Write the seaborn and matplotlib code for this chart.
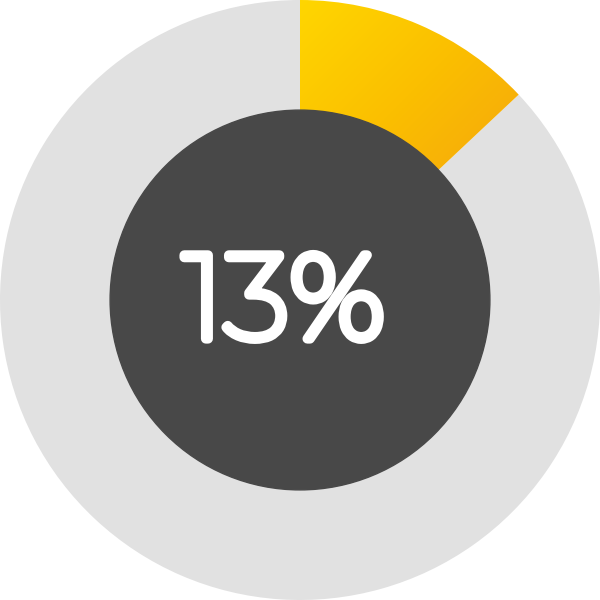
import numpy as np
import matplotlib
matplotlib.use("Agg")
import matplotlib.pyplot as plt
import matplotlib.patheffects as pe
import seaborn as sns
from matplotlib.colors import LinearSegmentedColormap

# Data
labels = ["done", "rest"]
values = [13, 87]
center_text = "13%"

sns.set_theme(style="white")
plt.rcParams['font.family'] = ['Montserrat', 'Open Sans', 'DejaVu Sans']

fig = plt.figure(figsize=(6, 6), dpi=100)
ax = fig.add_axes([0, 0, 1, 1])

wedges, _ = ax.pie(values, startangle=90, counterclock=False, radius=1.0,
                   colors=["none", "#e1e1e1"],
                   wedgeprops=dict(linewidth=0, edgecolor="none"))

# gradient fill for the highlighted slice
grad_cmap = LinearSegmentedColormap.from_list("gold", ["#ffd600", "#fbbf00", "#f5a60e"])
xx, yy = np.meshgrid(np.linspace(-1, 1, 400), np.linspace(-1, 1, 400))
grad = (xx - yy)
img = ax.imshow(grad, extent=[-1, 1, -1, 1], origin="lower", cmap=grad_cmap,
                vmin=-1.0, vmax=0.35, zorder=1)
img.set_clip_path(wedges[0])

inner = plt.Circle((0, 0), 0.633, color="#484848", zorder=3)
ax.add_patch(inner)

ax.text(-0.053, -0.02, center_text, ha="center", va="center", color="white",
        fontsize=86, fontweight="semibold", zorder=4,
        path_effects=[pe.withStroke(linewidth=7, foreground="white")])

ax.set_xlim(-1, 1)
ax.set_ylim(-1, 1)
ax.set_aspect("equal")
ax.axis("off")

plt.savefig("out.png", dpi=100, facecolor="white")
plt.close()
